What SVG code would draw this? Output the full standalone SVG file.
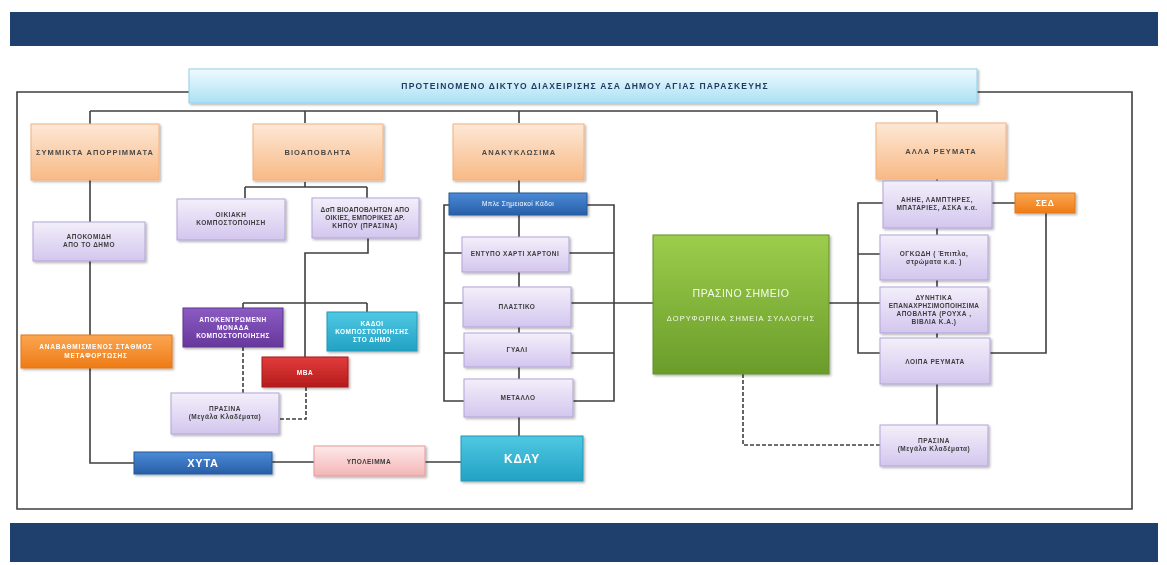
<svg xmlns="http://www.w3.org/2000/svg" width="1167" height="565" viewBox="0 0 1167 565">
<style>
text{font-family:"Liberation Sans",Arial,sans-serif;text-anchor:middle}
.s{font-size:6.5px;font-weight:bold;fill:#3d3d3d;letter-spacing:0.5px}
.h{font-size:7.5px;font-weight:bold;fill:#4a4a4a;letter-spacing:1.1px}
.w{font-size:6.5px;font-weight:bold;fill:#ffffff;letter-spacing:0.5px}
.ln{fill:none;stroke:#3f3f3f;stroke-width:1.6}
.ds{fill:none;stroke:#3f3f3f;stroke-width:1.6;stroke-dasharray:4 2}
.box{filter:url(#sh)}
</style>
<defs>
<filter id="sh" x="-10%" y="-10%" width="125%" height="130%"><feDropShadow dx="1.5" dy="1.5" stdDeviation="1" flood-color="#000" flood-opacity="0.3"/></filter>
<linearGradient id="gT" x1="0" y1="0" x2="0" y2="1"><stop offset="0" stop-color="#effafe"/><stop offset="1" stop-color="#abe1f5"/></linearGradient>
<linearGradient id="gP" x1="0" y1="0" x2="0" y2="1"><stop offset="0" stop-color="#fde8d6"/><stop offset="1" stop-color="#f8b985"/></linearGradient>
<linearGradient id="gL" x1="0" y1="0" x2="0" y2="1"><stop offset="0" stop-color="#f3effa"/><stop offset="1" stop-color="#d3c6ee"/></linearGradient>
<linearGradient id="gB" x1="0" y1="0" x2="0" y2="1"><stop offset="0" stop-color="#4b8ad6"/><stop offset="1" stop-color="#285ea8"/></linearGradient>
<linearGradient id="gV" x1="0" y1="0" x2="0" y2="1"><stop offset="0" stop-color="#8c5cc2"/><stop offset="1" stop-color="#66379c"/></linearGradient>
<linearGradient id="gC" x1="0" y1="0" x2="0" y2="1"><stop offset="0" stop-color="#4fc8e2"/><stop offset="1" stop-color="#22a2c4"/></linearGradient>
<linearGradient id="gR" x1="0" y1="0" x2="0" y2="1"><stop offset="0" stop-color="#e23c3c"/><stop offset="1" stop-color="#b51b1b"/></linearGradient>
<linearGradient id="gO" x1="0" y1="0" x2="0" y2="1"><stop offset="0" stop-color="#fba651"/><stop offset="1" stop-color="#ee7b16"/></linearGradient>
<linearGradient id="gK" x1="0" y1="0" x2="0" y2="1"><stop offset="0" stop-color="#fde9e9"/><stop offset="1" stop-color="#f4b5b5"/></linearGradient>
<linearGradient id="gG" x1="0" y1="0" x2="0" y2="1"><stop offset="0" stop-color="#9ccd4b"/><stop offset="1" stop-color="#6a9c2b"/></linearGradient>
</defs>
<rect width="1167" height="565" fill="#ffffff"/>
<rect x="10" y="12" width="1148" height="34" fill="#1f3f6d"/>
<rect x="10" y="523" width="1148" height="39" fill="#1f3f6d"/>

<g id="connectors">
<path class="ln" d="M189,92 H17 V509 H1132 V92 H977"/>
<path class="ln" d="M90,111 H937 M90,111 V125 M305,111 V123 M519,111 V123 M937,111 V123"/>
<path class="ln" d="M90,179 V222 M90,261 V335 M90,368 V463 H134"/>
<path class="ln" d="M305,182 V187 M245,187 H367 M245,187 V198 M367,187 V198"/>
<path class="ln" d="M368,238 V253 H305 V357 M243,303 H367 M243,303 V308 M367,303 V312"/>
<path class="ds" d="M243,347 V393 M306,387 V419 H279"/>
<path class="ln" d="M272,462 H314 M425,462 H461"/>
<path class="ln" d="M519,178 V193 M519,215 V237 M519,272 V287 M519,327 V333 M519,367 V379 M519,417 V436"/>
<path class="ln" d="M449,205 H444 V401 H464 M444,253 H462 M444,303 H463 M444,353 H464"/>
<path class="ln" d="M587,205 H614 V401 H573 M569,253 H614 M571,303 H653 M571,353 H614"/>
<path class="ln" d="M829,303 H880 M883,203 H858 V353 H880 M858,254 H880"/>
<path class="ln" d="M937,178 V182 M937,228 V235 M937,280 V287 M937,333 V338 M937,384 V425"/>
<path class="ln" d="M992,203 H1015 M1046,213 V353 H990"/>
<path class="ds" d="M743,374 V445 H880"/>
</g>

<g id="title" class="box"><rect x="189" y="69" width="788" height="34" fill="url(#gT)" stroke="#8fd2ec" stroke-width="1"/>
<text x="585" y="89" style="font-size:8.5px;font-weight:bold;fill:#1f3a5f;letter-spacing:1.2px">ΠΡΟΤΕΙΝΟΜΕΝΟ ΔΙΚΤΥΟ ΔΙΑΧΕΙΡΙΣΗΣ ΑΣΑ ΔΗΜΟΥ ΑΓΙΑΣ ΠΑΡΑΣΚΕΥΗΣ</text></g>

<g id="symmikta" class="box"><rect x="31" y="124" width="128" height="56" fill="url(#gP)" stroke="#f2b27f"/><text class="h" x="95" y="155">ΣΥΜΜΙΚΤΑ ΑΠΟΡΡΙΜΜΑΤΑ</text></g>
<g id="bioapovlita" class="box"><rect x="253" y="124" width="130" height="56" fill="url(#gP)" stroke="#f2b27f"/><text class="h" x="318" y="155">ΒΙΟΑΠΟΒΛΗΤΑ</text></g>
<g id="anakyklosima" class="box"><rect x="453" y="124" width="131" height="56" fill="url(#gP)" stroke="#f2b27f"/><text class="h" x="519" y="155">ΑΝΑΚΥΚΛΩΣΙΜΑ</text></g>
<g id="alla" class="box"><rect x="876" y="123" width="130" height="56" fill="url(#gP)" stroke="#f2b27f"/><text class="h" x="941" y="154">ΑΛΛΑ ΡΕΥΜΑΤΑ</text></g>

<g id="apokomidi" class="box"><rect x="33" y="222" width="112" height="39" fill="url(#gL)" stroke="#b3a3d8"/><text class="s" x="89" y="239">ΑΠΟΚΟΜΙΔΗ</text><text class="s" x="89" y="247">ΑΠΟ ΤΟ ΔΗΜΟ</text></g>
<g id="oikiaki" class="box"><rect x="177" y="199" width="108" height="41" fill="url(#gL)" stroke="#b3a3d8"/><text class="s" x="231" y="217">ΟΙΚΙΑΚΗ</text><text class="s" x="231" y="225">ΚΟΜΠΟΣΤΟΠΟΙΗΣΗ</text></g>
<g id="dsp" class="box"><rect x="312" y="198" width="107" height="40" fill="url(#gL)" stroke="#b3a3d8"/><text class="s" x="365" y="212" style="letter-spacing:0.2px">ΔσΠ ΒΙΟΑΠΟΒΛΗΤΩΝ ΑΠΟ</text><text class="s" x="365" y="220" style="letter-spacing:0.2px">ΟΙΚΙΕΣ, ΕΜΠΟΡΙΚΕΣ ΔΡ.</text><text class="s" x="365" y="228">ΚΗΠΟΥ (ΠΡΑΣΙΝΑ)</text></g>
<g id="apokentromeni" class="box"><rect x="183" y="308" width="100" height="39" fill="url(#gV)" stroke="#5e3490"/><text class="w" x="233" y="322">ΑΠΟΚΕΝΤΡΩΜΕΝΗ</text><text class="w" x="233" y="330">ΜΟΝΑΔΑ</text><text class="w" x="233" y="338">ΚΟΜΠΟΣΤΟΠΟΙΗΣΗΣ</text></g>
<g id="kadoi" class="box"><rect x="327" y="312" width="90" height="39" fill="url(#gC)" stroke="#2098b8"/><text class="w" x="372" y="326">ΚΑΔΟΙ</text><text class="w" x="372" y="334">ΚΟΜΠΟΣΤΟΠΟΙΗΣΗΣ</text><text class="w" x="372" y="342">ΣΤΟ ΔΗΜΟ</text></g>
<g id="stathmos" class="box"><rect x="21" y="335" width="151" height="33" fill="url(#gO)" stroke="#e57612"/><text class="w" x="96" y="349" style="letter-spacing:0.8px">ΑΝΑΒΑΘΜΙΣΜΕΝΟΣ ΣΤΑΘΜΟΣ</text><text class="w" x="96" y="358" style="letter-spacing:0.8px">ΜΕΤΑΦΟΡΤΩΣΗΣ</text></g>
<g id="mva" class="box"><rect x="262" y="357" width="86" height="30" fill="url(#gR)" stroke="#a81818"/><text class="w" x="305" y="375">ΜΒΑ</text></g>
<g id="prasina1" class="box"><rect x="171" y="393" width="108" height="41" fill="url(#gL)" stroke="#b3a3d8"/><text class="s" x="225" y="411">ΠΡΑΣΙΝΑ</text><text class="s" x="225" y="419">(Μεγάλα Κλαδέματα)</text></g>
<g id="xyta" class="box"><rect x="134" y="452" width="138" height="22" fill="url(#gB)" stroke="#275a9c"/><text x="203" y="467" style="font-size:11px;font-weight:bold;fill:#fff;letter-spacing:0.8px">ΧΥΤΑ</text></g>
<g id="ypoleimma" class="box"><rect x="314" y="446" width="111" height="30" fill="url(#gK)" stroke="#e39b9b"/><text class="s" x="369" y="464">ΥΠΟΛΕΙΜΜΑ</text></g>
<g id="kdau" class="box"><rect x="461" y="436" width="122" height="45" fill="url(#gC)" stroke="#1f98b8"/><text x="522" y="463" style="font-size:12px;font-weight:bold;fill:#fff;letter-spacing:0.8px">ΚΔΑΥ</text></g>

<g id="mple" class="box"><rect x="449" y="193" width="138" height="22" fill="url(#gB)" stroke="#275a9c"/><text x="518" y="206" style="font-size:6.5px;fill:#fff;letter-spacing:0.4px">Μπλε Σημειακοί Κάδοι</text></g>
<g id="entypo" class="box"><rect x="462" y="237" width="107" height="35" fill="url(#gL)" stroke="#b3a3d8"/><text class="s" x="515" y="256">ΕΝΤΥΠΟ ΧΑΡΤΙ ΧΑΡΤΟΝΙ</text></g>
<g id="plastiko" class="box"><rect x="463" y="287" width="108" height="40" fill="url(#gL)" stroke="#b3a3d8"/><text class="s" x="517" y="309">ΠΛΑΣΤΙΚΟ</text></g>
<g id="gyali" class="box"><rect x="464" y="333" width="107" height="34" fill="url(#gL)" stroke="#b3a3d8"/><text class="s" x="517" y="352">ΓΥΑΛΙ</text></g>
<g id="metallo" class="box"><rect x="464" y="379" width="109" height="38" fill="url(#gL)" stroke="#b3a3d8"/><text class="s" x="518" y="400">ΜΕΤΑΛΛΟ</text></g>

<g id="prasino-simeio" class="box"><rect x="653" y="235" width="176" height="139" fill="url(#gG)" stroke="#64922a"/><text x="741" y="297" style="font-size:10.5px;fill:#f4fbe8;letter-spacing:0.5px">ΠΡΑΣΙΝΟ ΣΗΜΕΙΟ</text><text x="741" y="321" style="font-size:7.5px;fill:#f4fbe8;letter-spacing:1.1px">ΔΟΡΥΦΟΡΙΚΑ ΣΗΜΕΙΑ ΣΥΛΛΟΓΗΣ</text></g>

<g id="aiie" class="box"><rect x="883" y="181" width="109" height="47" fill="url(#gL)" stroke="#b3a3d8"/><text class="s" x="937" y="202">ΑΗΗΕ, ΛΑΜΠΤΗΡΕΣ,</text><text class="s" x="937" y="210">ΜΠΑΤΑΡΙΕΣ, ΑΣΚΑ κ.α.</text></g>
<g id="sed" class="box"><rect x="1015" y="193" width="60" height="20" fill="url(#gO)" stroke="#e57612"/><text x="1045" y="206" style="font-size:8.5px;font-weight:bold;fill:#fff;letter-spacing:0.6px">ΣΕΔ</text></g>
<g id="ogkodi" class="box"><rect x="880" y="235" width="108" height="45" fill="url(#gL)" stroke="#b3a3d8"/><text class="s" x="934" y="256">ΟΓΚΩΔΗ ( Έπιπλα,</text><text class="s" x="934" y="264">στρώματα κ.α. )</text></g>
<g id="dynitika" class="box"><rect x="880" y="287" width="108" height="46" fill="url(#gL)" stroke="#b3a3d8"/><text class="s" x="934" y="300">ΔΥΝΗΤΙΚΑ</text><text class="s" x="934" y="308" style="letter-spacing:0.3px">ΕΠΑΝΑΧΡΗΣΙΜΟΠΟΙΗΣΙΜΑ</text><text class="s" x="934" y="316">ΑΠΟΒΛΗΤΑ (ΡΟΥΧΑ ,</text><text class="s" x="934" y="324">ΒΙΒΛΙΑ Κ.Α.)</text></g>
<g id="loipa" class="box"><rect x="880" y="338" width="110" height="46" fill="url(#gL)" stroke="#b3a3d8"/><text class="s" x="935" y="364">ΛΟΙΠΑ ΡΕΥΜΑΤΑ</text></g>
<g id="prasina2" class="box"><rect x="880" y="425" width="108" height="41" fill="url(#gL)" stroke="#b3a3d8"/><text class="s" x="934" y="443">ΠΡΑΣΙΝΑ</text><text class="s" x="934" y="451">(Μεγάλα Κλαδέματα)</text></g>
</svg>
